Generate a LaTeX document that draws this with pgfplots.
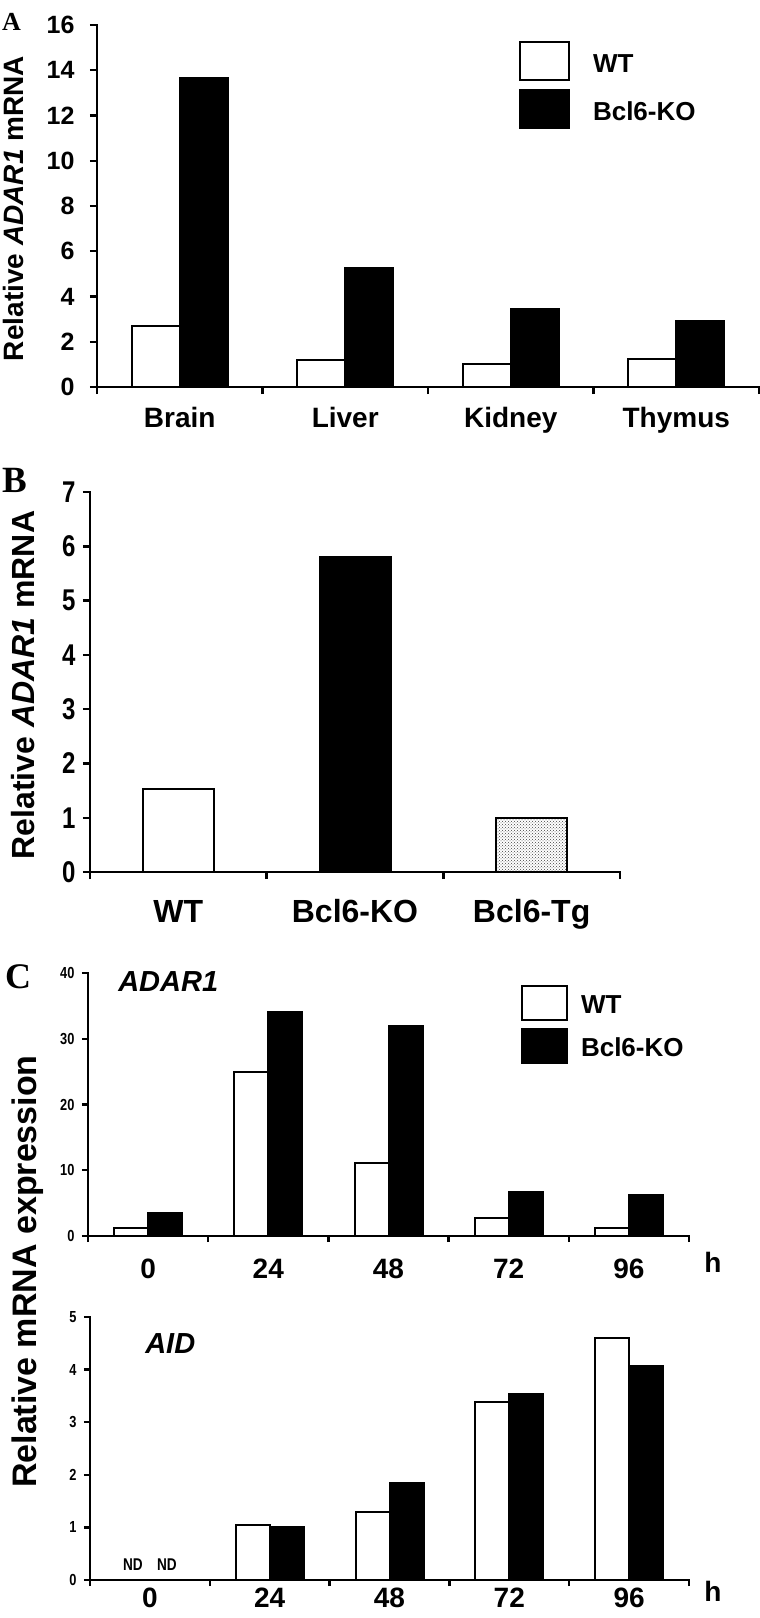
\documentclass[border=0pt]{standalone}
\usepackage{fontspec}
\setmainfont{Liberation Sans}
\newfontfamily\serifbf{Liberation Serif}
\newfontfamily\narrowf[FakeStretch=0.8]{Liberation Sans}
\usepackage{pgfplots}
\pgfplotsset{compat=1.18}
\usetikzlibrary{patterns}
\newcommand{\fs}[1]{\fontsize{#1}{#1}\selectfont}

\pgfplotsset{
  panel/.style={
    scale only axis,
    axis x line*=bottom, axis y line*=left,
    tick align=outside,
    tick style={black, line width=2.4pt},
    major tick length=7pt,
    x tick label as interval=true,
    /pgf/number format/assume math mode=true,
    clip=false,
    legend cell align=left,
  },
  barWT/.style={fill=white, draw=black, line width=2pt},
  barKO/.style={fill=black, draw=black, line width=2pt},
  legA/.style={legend image code/.code={\draw[##1, line width=2pt] (0pt,-7pt) rectangle (49pt,31pt);}},
  legC/.style={legend image code/.code={\draw[##1, line width=2pt] (0pt,-7pt) rectangle (45pt,27pt);}},
}
\newcommand{\axlines}{\draw[line width=2.6pt, line cap=rect] (rel axis cs:0,1) -- (rel axis cs:0,0) -- (rel axis cs:1,0);}

\begin{document}
\begin{tikzpicture}
\useasboundingbox (0,0) rectangle (760pt,-1618pt);

% ---------------- Panel A ----------------
\node[anchor=base west, font=\serifbf\bfseries\fs{26}, inner sep=0pt] at (2pt,-30pt) {A};
\begin{axis}[panel,
  at={(97pt,-387pt)}, anchor=south west,
  width=662pt, height=362pt,
  xmin=-0.5, xmax=3.5, ymin=0, ymax=16,
  ytick={0,2,...,16},
  xtick={-0.5,0.5,1.5,2.5,3.5},
  xticklabels={Brain,Liver,Kidney,Thymus},
  yticklabel style={font=\bfseries\fs{25}, xshift=-12pt},
  xticklabel style={font=\bfseries\fs{28}, anchor=base, yshift=-33pt},
  ybar=0pt, bar width=48pt,
  ylabel={Relative \textit{ADAR1} mRNA},
  every axis y label/.style={at={(rel axis cs:-0.1103,0.493)}, rotate=90, anchor=base, font=\bfseries\fs{28}},
  legend style={at={(rel axis cs:0.6375,0.956)}, anchor=north west, draw=none, fill=none,
    inner sep=0pt, outer sep=0pt, row sep=8pt, column sep=23pt,
    nodes={inner sep=0pt, anchor=base west}, font=\bfseries\fs{26}},
]
\addplot[barWT, legA] coordinates {(0,2.68) (1,1.18) (2,1.02) (3,1.25)};
\addplot[barKO, legA] coordinates {(0,13.64) (1,5.27) (2,3.44) (3,2.9)};
\legend{WT, Bcl6-KO}
\axlines
\end{axis}

% ---------------- Panel B ----------------
\node[anchor=base west, font=\serifbf\bfseries\fs{37}, inner sep=0pt] at (2pt,-492pt) {B};
\begin{axis}[panel,
  at={(90pt,-872pt)}, anchor=south west,
  width=530pt, height=380pt,
  xmin=-0.5, xmax=2.5, ymin=0, ymax=7,
  ytick={0,1,...,7},
  xtick={-0.5,0.5,1.5,2.5},
  xticklabels={WT,Bcl6-KO,Bcl6-Tg},
  yticklabel style={font=\narrowf\bfseries\fs{30}, xshift=-4pt},
  xticklabel style={font=\bfseries\fs{32}, anchor=base, yshift=-43pt},
  ybar, bar width=71pt,
  ylabel={Relative \textit{ADAR1} mRNA},
  every axis y label/.style={at={(rel axis cs:-0.1038,0.492)}, rotate=90, anchor=base, font=\bfseries\fs{32}},
]
\addplot[barWT, bar shift=0pt] coordinates {(0,1.53)};
\addplot[barKO, bar shift=0pt] coordinates {(1,5.81)};
\addplot[draw=black, line width=2pt, fill=white, postaction={pattern=crosshatch dots, pattern color=black!75}, bar shift=0pt] coordinates {(2,1.0)};
\axlines
\end{axis}

% ---------------- Panel C (top) ----------------
\node[anchor=base west, font=\serifbf\bfseries\fs{36}, inner sep=0pt] at (5pt,-988pt) {C};
\begin{axis}[panel,
  at={(88pt,-1236pt)}, anchor=south west,
  width=601pt, height=263pt,
  xmin=-0.5, xmax=4.5, ymin=0, ymax=40,
  ytick={0,10,...,40},
  xtick={-0.5,0.5,...,4.5},
  xticklabels={0,24,48,72,96},
  major tick length=6pt,
  yticklabel style={font=\narrowf\bfseries\fs{16}, xshift=-4pt},
  xticklabel style={font=\bfseries\fs{28}, anchor=base, yshift=-36pt},
  ybar=0pt, bar width=34pt,
  ylabel={Relative mRNA expression},
  every axis y label/.style={at={(rel axis cs:-0.0849,-0.135)}, rotate=90, anchor=base, font=\bfseries\fs{34}},
  legend style={at={(rel axis cs:0.7205,0.954)}, anchor=north west, draw=none, fill=none,
    inner sep=0pt, outer sep=0pt, row sep=7pt, column sep=13pt,
    nodes={inner sep=0pt, anchor=base west}, font=\bfseries\fs{26}},
]
\addplot[barWT, legC] coordinates {(0,1.27) (1,25.0) (2,11.1) (3,2.7) (4,1.17)};
\addplot[barKO, legC] coordinates {(0,3.56) (1,34.05) (2,31.9) (3,6.7) (4,6.2)};
\legend{WT, Bcl6-KO}
\node[anchor=base west, font=\bfseries\itshape\fs{29}, inner sep=0pt] at (rel axis cs:0.05,0.928) {ADAR1};
\node[anchor=base, font=\bfseries\fs{28}, inner sep=0pt] at (rel axis cs:1.04,-0.137) {h};
\axlines
\end{axis}

% ---------------- Panel C (bottom) ----------------
\begin{axis}[panel,
  at={(90pt,-1580pt)}, anchor=south west,
  width=599pt, height=263pt,
  xmin=-0.5, xmax=4.5, ymin=0, ymax=5,
  ytick={0,1,...,5},
  xtick={-0.5,0.5,...,4.5},
  xticklabels={0,24,48,72,96},
  major tick length=6pt,
  yticklabel style={font=\narrowf\bfseries\fs{16}, xshift=-4pt},
  xticklabel style={font=\bfseries\fs{28}, anchor=base, yshift=-21pt},
  ybar=0pt, bar width=34pt,
]
\addplot[barWT] coordinates {(1,1.05) (2,1.29) (3,3.38) (4,4.6)};
\addplot[barKO] coordinates {(1,1.0) (2,1.84) (3,3.54) (4,4.06)};
\node[anchor=base west, font=\bfseries\itshape\fs{29}, inner sep=0pt] at (rel axis cs:0.092,0.863) {AID};
\node[anchor=base, font=\narrowf\bfseries\fs{17}, inner sep=0pt] at (axis cs:-0.142,0.19) {ND};
\node[anchor=base, font=\narrowf\bfseries\fs{17}, inner sep=0pt] at (axis cs:0.142,0.19) {ND};
\node[anchor=base, font=\bfseries\fs{28}, inner sep=0pt] at (rel axis cs:1.04,-0.080) {h};
\axlines
\end{axis}
\end{tikzpicture}
\end{document}
